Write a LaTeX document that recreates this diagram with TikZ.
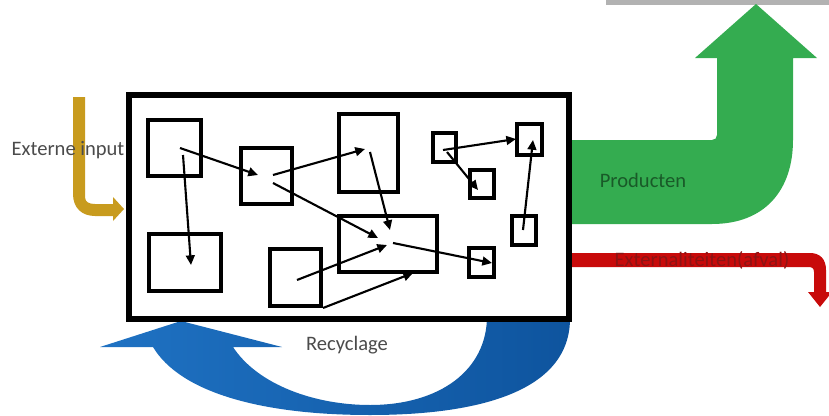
\documentclass[tikz,border=0pt]{standalone}
\usepackage{fontspec}
\setmainfont{Carlito}
\usepackage{tikz}
\usetikzlibrary{calc,fit,arrows.meta}

\definecolor{inputgold}{RGB}{200,155,30}
\definecolor{prodgreen}{RGB}{52,172,80}
\definecolor{prodtext}{RGB}{25,90,40}
\definecolor{wastered}{RGB}{200,10,10}
\definecolor{wastetext}{RGB}{140,20,20}
\definecolor{recblue}{RGB}{31,114,195}
\definecolor{recbluedark}{RGB}{14,84,158}
\definecolor{labelgray}{RGB}{75,75,75}

\begin{document}
\begin{tikzpicture}[x=0.02cm,y=-0.02cm,
		box/.style={draw,line width=2.8pt,inner sep=0pt},
		flow/.style={-{Triangle[length=5.5pt,width=5pt]},line width=1.2pt},
		txt/.style={font=\fontsize{11.7}{14}\selectfont}]
		\useasboundingbox (0,0) rectangle (829,416);

		\fill[black!30] (606,0) rectangle (829,5);

		\shade[left color=recblue,right color=recbluedark] (570,316) .. controls (572,395) and (470,415) .. (370,415)
			.. controls (260,415) and (180,392) .. (153,347) -- (100,347) -- (181,321) -- (282,347) -- (233,347)
			.. controls (258,385) and (315,405) .. (370,405) .. controls (440,405) and (487,370) .. (487,316) -- cycle;
		\fill[prodgreen] (569,140) -- (712,140) .. controls (715,140) and (717,138) .. (717,135) -- (717,58)
			-- (695,58) -- (756,4) -- (817,58) -- (793,58) -- (793,140)
			.. controls (793,190) and (765,224) .. (712,224) -- (569,224) -- cycle;
		\fill[wastered] (569,253) -- (810,253) .. controls (820,253) and (826,259) .. (826,270) -- (826,292)
			-- (832,292) -- (820,307) -- (808,292) -- (814,292) -- (814,272)
			.. controls (814,268) and (812,267) .. (808,267) -- (569,267) -- cycle;
		\fill[inputgold] (73,97) -- (85,97) -- (85,197) .. controls (85,202) and (89,204) .. (95,204)
			-- (113,204) -- (113,197) -- (124,209) -- (113,221) -- (113,216) -- (95,216)
			.. controls (82,216) and (73,208) .. (73,194) -- cycle;

		\node[box,fill=white,line width=3.2pt,fit={(129,95) (569,319)}] (S) {};

		\node[box,fit={(148,120) (201,176)}] (A) {};
		\node[box,fit={(149,234) (221,291)}] (B) {};
		\node[box,fit={(241,148) (292,204)}] (C) {};
		\node[box,fit={(270,249) (321,306)}] (D) {};
		\node[box,fit={(339,114) (398,192)}] (E) {};
		\node[box,fit={(339,216) (437,272)}] (F) {};
		\node[box,fit={(433,133) (456,162)}] (G) {};
		\node[box,fit={(470,170) (494,198)}] (H) {};
		\node[box,fit={(517,124) (542,155)}] (I) {};
		\node[box,fit={(512,216) (536,245)}] (J) {};
		\node[box,fit={(469,248) (494,277)}] (K) {};

		\coordinate (A1) at (180,148);
		\coordinate (A2) at (183,155);
		\coordinate (B1) at (191,265);
		\coordinate (C1) at (258,175);
		\coordinate (C2) at (273,175);
		\coordinate (C3) at (273,183);
		\coordinate (D1) at (297,280);
		\coordinate (D2) at (323,308);
		\coordinate (E1) at (365,149);
		\coordinate (E2) at (370,152);
		\coordinate (F1) at (378,238);
		\coordinate (F2) at (390,230);
		\coordinate (F3) at (387,245);
		\coordinate (F4) at (413,273);
		\coordinate (F5) at (393,243);
		\coordinate (G1) at (443,150);
		\coordinate (G2) at (447,152);
		\coordinate (H1) at (478,190);
		\coordinate (I1) at (516,139);
		\coordinate (I2) at (533,140);
		\coordinate (J1) at (523,230);
		\coordinate (K1) at (492,263);

		\draw[flow] (A1) -- (C1);
		\draw[flow] (A2) -- (B1);
		\draw[flow] (C2) -- (E1);
		\draw[flow] (C3) -- (F1);
		\draw[flow] (E2) -- (F2);
		\draw[flow] (D1) -- (F3);
		\draw[flow] (D2) -- (F4);
		\draw[flow] (F5) -- (K1);
		\draw[flow] (G1) -- (I1);
		\draw[flow] (G2) -- (H1);
		\draw[flow] (J1) -- (I2);

		\node[txt,text=labelgray] (input) at (68,150) {Externe input};
		\node[txt,text=prodtext] (prod) at (643,180) {Producten};
		\node[txt,text=wastetext] (waste) at (702,260) {Externaliteiten(afval)};
		\node[txt,text=labelgray] (rec) at (347,345) {Recyclage};

	\end{tikzpicture}
\end{document}
